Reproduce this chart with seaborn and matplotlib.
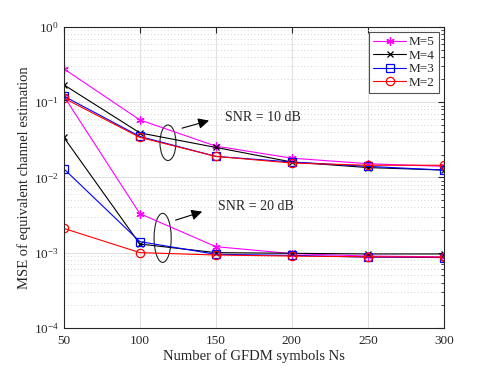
import numpy as np
import pandas as pd
import matplotlib
matplotlib.use("Agg")
import matplotlib.pyplot as plt
import seaborn as sns
from matplotlib.patches import Ellipse

# Nombre de symboles GFDM
ns = [50, 100, 150, 200, 250, 300]

# MSE, SNR = 10 dB
mse_10_m5 = [0.277, 0.058, 0.026, 0.018, 0.0152, 0.0140]
mse_10_m4 = [0.170, 0.039, 0.025, 0.0160, 0.0135, 0.0125]
mse_10_m3 = [0.120, 0.035, 0.0190, 0.0160, 0.0140, 0.0125]
mse_10_m2 = [0.113, 0.034, 0.0190, 0.0155, 0.0145, 0.0145]

# MSE, SNR = 20 dB
mse_20_m5 = [0.120, 0.0033, 0.00120, 0.00097, 0.00090, 0.00088]
mse_20_m4 = [0.034, 0.0013, 0.00100, 0.00098, 0.00096, 0.00096]
mse_20_m3 = [0.013, 0.0014, 0.00095, 0.00092, 0.00087, 0.00086]
mse_20_m2 = [0.0021, 0.0010, 0.00093, 0.00090, 0.00088, 0.00087]

labels = ["M=5", "M=4", "M=3", "M=2"]
couleurs = ["#ff00ff", "#000000", "#0000ff", "#ff0000"]
marqueurs = [(6, 2, 0), "x", "s", "o"]
tailles = [6, 4.5, 5.5, 6]

series_10 = [mse_10_m5, mse_10_m4, mse_10_m3, mse_10_m2]
series_20 = [mse_20_m5, mse_20_m4, mse_20_m3, mse_20_m2]

sns.set_style("white")
plt.rcParams["font.family"] = ["Liberation Serif", "DejaVu Serif"]
plt.rcParams["mathtext.fontset"] = "stix"

fig = plt.figure(figsize=(4.91, 3.68), dpi=100)
ax = fig.add_axes([0.130, 0.109, 0.774, 0.818])

for lab, c, m, t, y10, y20 in zip(labels, couleurs, marqueurs, tailles, series_10, series_20):
    df10 = pd.DataFrame({"Ns": ns, "MSE": y10})
    df20 = pd.DataFrame({"Ns": ns, "MSE": y20})
    sns.lineplot(data=df10, x="Ns", y="MSE", ax=ax, color=c, marker=m, lw=0.8,
                 markersize=t, markerfacecolor="none", markeredgecolor=c,
                 markeredgewidth=0.9, label=lab)
    sns.lineplot(data=df20, x="Ns", y="MSE", ax=ax, color=c, marker=m, lw=0.8,
                 markersize=t, markerfacecolor="none", markeredgecolor=c,
                 markeredgewidth=0.9, label="_nolegend_")

ax.set_yscale("log")
ax.set_xlim(50, 300)
ax.set_ylim(1e-4, 1)
ax.set_xticks([50, 100, 150, 200, 250, 300])
ax.set_yticks([1e-4, 1e-3, 1e-2, 1e-1, 1])
ax.yaxis.set_minor_locator(matplotlib.ticker.LogLocator(base=10, subs=np.arange(2, 10)))
ax.yaxis.set_minor_formatter(matplotlib.ticker.NullFormatter())

ax.grid(True, which="major", color="#e0e0e0", lw=0.7, ls="-")
ax.grid(True, which="minor", axis="y", color="#c8c8c8", lw=0.6, ls=(0, (1, 3)))
ax.set_axisbelow(True)

for sp in ax.spines.values():
    sp.set_color("#262626")
    sp.set_linewidth(0.8)
ax.tick_params(which="both", direction="in", top=True, right=True, labelsize=9.5,
               color="#262626")
ax.tick_params(which="major", length=4)
ax.tick_params(axis="x", pad=5)
ax.tick_params(which="minor", length=2)

ax.set_xlabel("Number of GFDM symbols Ns", fontsize=10.5, labelpad=2)
ax.set_ylabel("MSE of equivalent channel estimation", fontsize=10.5, labelpad=2)

# Annotations : ellipses et flèches
ax.add_patch(Ellipse((0.274, 0.615), 0.042, 0.118, transform=ax.transAxes,
                     fill=False, ec="#222222", lw=0.8))
ax.add_patch(Ellipse((0.260, 0.299), 0.045, 0.163, transform=ax.transAxes,
                     fill=False, ec="#222222", lw=0.8))
ax.annotate("", xy=(0.389, 0.691), xytext=(0.304, 0.661), xycoords="axes fraction",
            arrowprops=dict(arrowstyle="-|>", color="black", lw=0.8,
                            mutation_scale=16))
ax.annotate("", xy=(0.371, 0.389), xytext=(0.287, 0.355), xycoords="axes fraction",
            arrowprops=dict(arrowstyle="-|>", color="black", lw=0.8,
                            mutation_scale=16))
ax.text(0.424, 0.698, "SNR = 10 dB", transform=ax.transAxes, fontsize=10,
        va="center", ha="left")
ax.text(0.405, 0.402, "SNR = 20 dB", transform=ax.transAxes, fontsize=10,
        va="center", ha="left")

leg = ax.legend(loc="upper right", fontsize=9.5, frameon=True, fancybox=False,
                borderpad=0.3, labelspacing=0.1, handlelength=2.5,
                handletextpad=0.2, borderaxespad=0.4)
leg.get_frame().set_edgecolor("#262626")
leg.get_frame().set_linewidth(0.8)

fig.savefig("out.png", dpi=100)
